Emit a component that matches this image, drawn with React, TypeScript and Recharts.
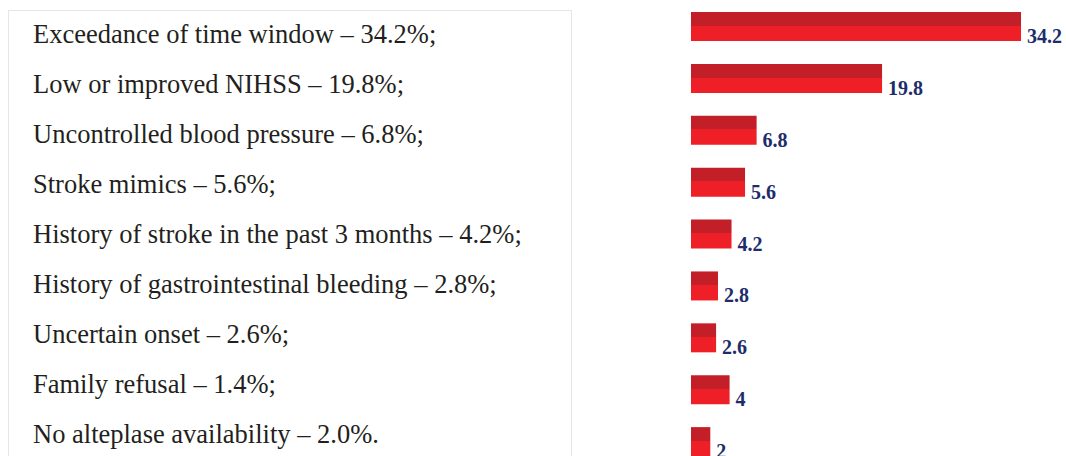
import React from 'react';
import { BarChart, Bar, XAxis, YAxis, LabelList } from 'recharts';

// reasons listed on the left, with the percent printed in the text
const reasons = [
  'Exceedance of time window',
  'Low or improved NIHSS',
  'Uncontrolled blood pressure',
  'Stroke mimics',
  'History of stroke in the past 3 months',
  'History of gastrointestinal bleeding',
  'Uncertain onset',
  'Family refusal',
  'No alteplase availability',
];
const textPercents = ['34.2', '19.8', '6.8', '5.6', '4.2', '2.8', '2.6', '1.4', '2.0'];

// values drawn as bars (as printed next to the bars)
const barValues = [34.2, 19.8, 6.8, 5.6, 4.2, 2.8, 2.6, 4, 2];
const barLabels = ['34.2', '19.8', '6.8', '5.6', '4.2', '2.8', '2.6', '4', '2'];

const data = reasons.map((name, i) => ({ name, value: barValues[i], label: barLabels[i] }));

const ValueLabel = (props: any) => {
  const { x, y, width, height, index } = props;
  return (
    <text
      x={x + width + 6}
      y={y + height + 2}
      fill="#1d2d6b"
      fontFamily="'Liberation Serif', serif"
      fontWeight={700}
      fontSize={20}
    >
      {barLabels[index]}
    </text>
  );
};

const App: React.FC = () => {
  return (
    <div style={{ position: 'relative', width: 1066, height: 456, overflow: 'hidden', background: '#fff' }}>
      <style>{`body{margin:0}`}</style>
      <div
        style={{
          position: 'absolute',
          left: 8,
          top: 10,
          width: 564,
          height: 470,
          border: '1.5px solid #e6e6e6',
          boxSizing: 'border-box',
        }}
      />
      <div style={{ position: 'absolute', left: 33, top: 0 }}>
        {reasons.map((r, i) => (
          <div
            key={r}
            style={{
              position: 'absolute',
              top: 9 + i * 50,
              height: 50,
              lineHeight: '50px',
              whiteSpace: 'nowrap',
              fontFamily: "'Liberation Serif', serif",
              fontSize: 26.5,
              color: '#231f20',
            }}
          >
            {r} – {textPercents[i]}%{i === reasons.length - 1 ? '.' : ';'}
          </div>
        ))}
      </div>
      <div style={{ position: 'absolute', left: 691, top: 0.5 }}>
        <BarChart
          width={386}
          height={467}
          data={data}
          layout="vertical"
          margin={{ top: 0, right: 0, bottom: 0, left: 0 }}
        >
          <defs>
            <linearGradient id="barFill" x1="0" y1="0" x2="0" y2="1">
              <stop offset="0%" stopColor="#c21f28" />
              <stop offset="47%" stopColor="#c21f28" />
              <stop offset="47%" stopColor="#ee1f26" />
              <stop offset="100%" stopColor="#ee1f26" />
            </linearGradient>
          </defs>
          <XAxis type="number" domain={[0, 40]} hide />
          <YAxis type="category" dataKey="name" hide />
          <Bar dataKey="value" fill="url(#barFill)" barSize={29} isAnimationActive={false}>
            <LabelList dataKey="label" content={ValueLabel} />
          </Bar>
        </BarChart>
      </div>
    </div>
  );
};

export default App;
